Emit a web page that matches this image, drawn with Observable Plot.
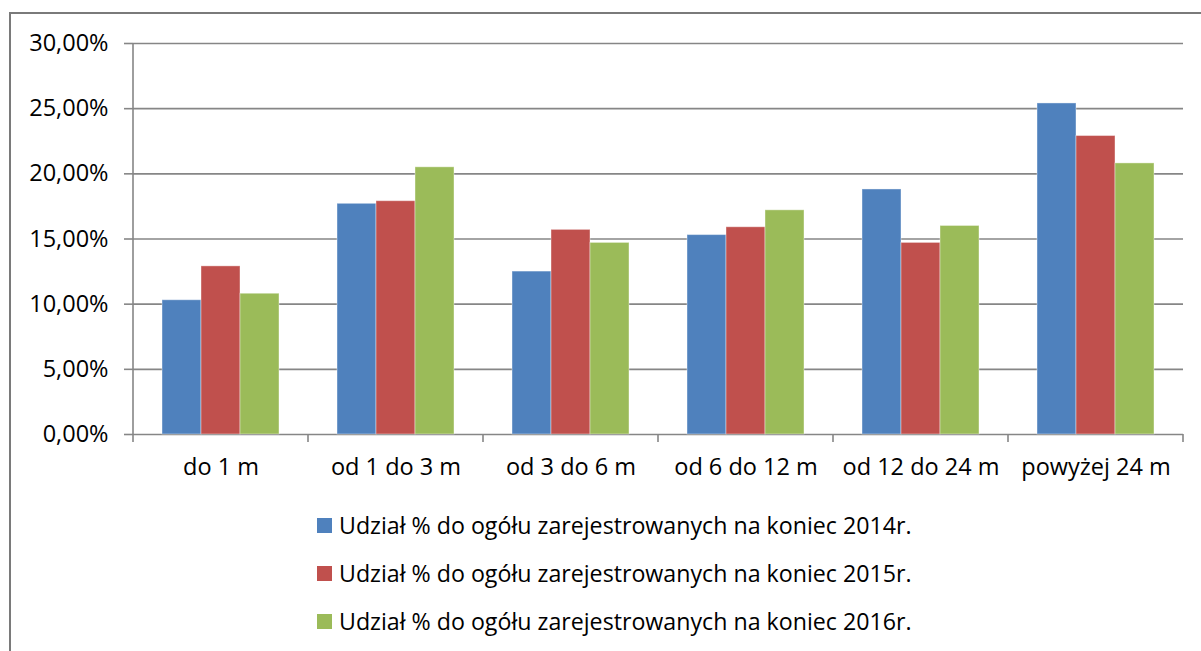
<!DOCTYPE html>
<html>
<head>
<meta charset="utf-8">
<script src="https://cdn.jsdelivr.net/npm/d3@7"></script>
<script src="https://cdn.jsdelivr.net/npm/@observablehq/plot@0.6"></script>
<style>
  html, body { margin: 0; padding: 0; background: #fff; }
  #wrap { position: relative; width: 1201px; height: 651px; overflow: hidden; font-family: "Open Sans", sans-serif; }
  #frame { position: absolute; left: 9px; top: 12px; width: 1210px; height: 660px; border: 2px solid #7a7a7a; box-sizing: border-box; }
  #chart { position: absolute; left: 0; top: 0; }
  #legend { position: absolute; left: 317px; top: 501px; }
  .row { display: flex; align-items: center; height: 48px; font-size: 23.2px; color: #000; }
  .sw { width: 15px; height: 15px; margin-right: 7px; flex: none; }
</style>
</head>
<body>
<div id="wrap">
  <div id="frame"></div>
  <div id="chart"></div>
  <div id="legend"></div>
</div>
<script>
const categories = ["do 1 m", "od 1 do 3 m", "od 3 do 6 m", "od 6 do 12 m", "od 12 do 24 m", "powyżej 24 m"];
const seriesNames = [
  "Udział % do ogółu zarejestrowanych na koniec 2014r.",
  "Udział % do ogółu zarejestrowanych na koniec 2015r.",
  "Udział % do ogółu zarejestrowanych na koniec 2016r."
];
const values2014 = [10.3, 17.7, 12.5, 15.3, 18.8, 25.4];
const values2015 = [12.9, 17.9, 15.7, 15.9, 14.7, 22.9];
const values2016 = [10.8, 20.5, 14.7, 17.2, 16.0, 20.8];
const colors = ["#4F81BD", "#C0504D", "#9BBB59"];
const yTicks = [0, 5, 10, 15, 20, 25, 30];

const allValues = [values2014, values2015, values2016];
const data = [];
categories.forEach((c, i) => {
  seriesNames.forEach((s, j) => data.push({category: c, series: s, value: allValues[j][i]}));
});

const fmt = d => d.toFixed(2).replace(".", ",") + "%";
const gridColor = "#868686";

const plot = Plot.plot({
  width: 1201,
  height: 490,
  marginTop: 43,
  marginBottom: 56,
  marginLeft: 133,
  marginRight: 18,
  style: {fontFamily: "Open Sans, sans-serif", fontSize: "23.5px", color: "#000", background: "transparent"},
  fx: {domain: categories, padding: 0, label: null},
  x: {domain: seriesNames, paddingInner: 0, paddingOuter: 0.72, axis: null},
  y: {domain: [0, 30], label: null},
  color: {domain: seriesNames, range: colors},
  marks: [
    Plot.ruleY(yTicks, {stroke: gridColor, strokeWidth: 1.6}),
    Plot.barY(data, {fx: "category", x: "series", y: "value", fill: "series", stroke: "#ffffff", strokeOpacity: 0.4, strokeWidth: 1}),
    Plot.axisY({ticks: yTicks, tickFormat: fmt, tickSize: 9, tickPadding: 16, stroke: gridColor, strokeWidth: 1.6, fill: "#000", label: null}),
    Plot.axisFx({anchor: "bottom", tickSize: 0, tickPadding: 24, fill: "#000", label: null})
  ]
});
document.getElementById("chart").appendChild(plot);

// vertical axis line and category dividers, placed from the library's own scales
const svg = d3.select(plot);
const fxs = plot.scale("fx");
const ys = plot.scale("y");
const y0 = ys.apply(0), yTop = ys.apply(30);
const edges = categories.map(c => fxs.apply(c)).concat([fxs.apply(categories[categories.length - 1]) + fxs.bandwidth]);
const g = svg.append("g").attr("stroke", gridColor).attr("stroke-width", 1.6);
g.append("line").attr("x1", edges[0]).attr("x2", edges[0]).attr("y1", yTop).attr("y2", y0 + 8);
edges.slice(1).forEach(x => g.append("line").attr("x1", x).attr("x2", x).attr("y1", y0).attr("y2", y0 + 8));

// legend
const legend = document.getElementById("legend");
seriesNames.forEach((s, j) => {
  const row = document.createElement("div");
  row.className = "row";
  row.innerHTML = `<span class="sw" style="background:${colors[j]}"></span><span>${s}</span>`;
  legend.appendChild(row);
});
</script>
</body>
</html>
